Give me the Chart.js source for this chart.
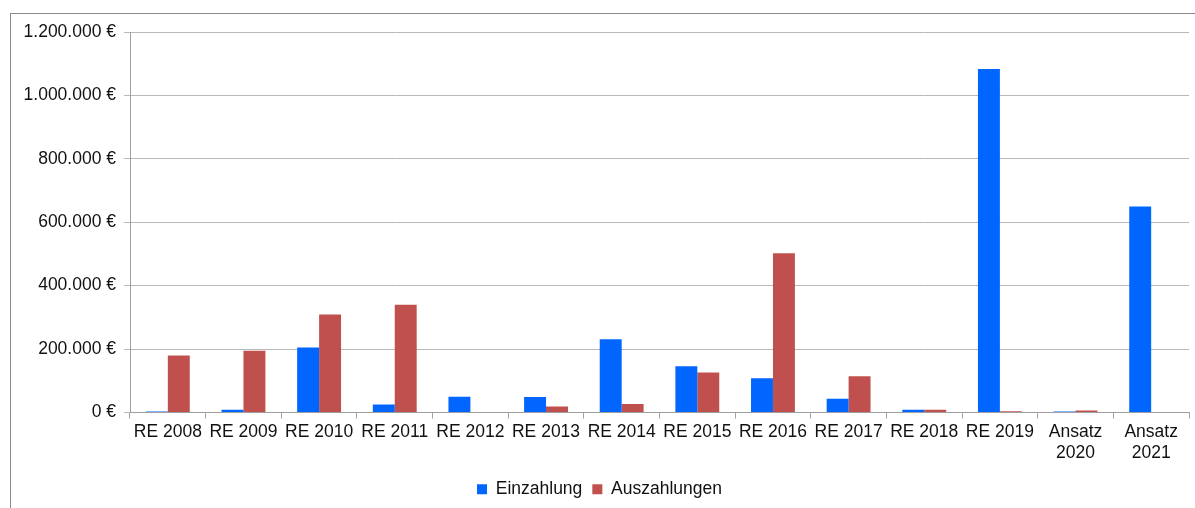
<!DOCTYPE html>
<html>
<head>
<meta charset="utf-8">
<script src="https://cdn.jsdelivr.net/npm/chart.js@4/dist/chart.umd.min.js"></script>
<style>
  html, body { margin: 0; padding: 0; background: #fff; }
  #frame { position: absolute; left: 10px; top: 13px; width: 1200px; height: 520px; border: 1px solid #8a8a8a; box-sizing: border-box; }
  #wrap { position: absolute; left: 0; top: 0; width: 1195px; height: 508px; }
</style>
</head>
<body>
<div id="frame"></div>
<div id="wrap"><canvas id="chart" width="1195" height="508"></canvas></div>
<script>
  'use strict';

  const categories = ['RE 2008', 'RE 2009', 'RE 2010', 'RE 2011', 'RE 2012', 'RE 2013', 'RE 2014',
    'RE 2015', 'RE 2016', 'RE 2017', 'RE 2018', 'RE 2019', ['Ansatz', '2020'], ['Ansatz', '2021']];
  const einzahlung = [3000, 9000, 205000, 25000, 50000, 49000, 231000, 146000, 108000, 43000, 9000, 1083000, 3000, 650000];
  const auszahlungen = [180000, 195000, 309000, 340000, 0, 19000, 27000, 126000, 502000, 114000, 9000, 4000, 6000, 0];
  const yTicks = [0, 200000, 400000, 600000, 800000, 1000000, 1200000];

  function formatEuro(v) {
    return String(v).replace(/\B(?=(\d{3})+(?!\d))/g, '.') + ' €';
  }

  const font = { family: '"Liberation Sans", Arial, sans-serif', size: 17.5, lineHeight: 1.15 };

  new Chart(document.getElementById('chart'), {
    type: 'bar',
    data: {
      labels: categories,
      datasets: [
        { label: 'Einzahlung', data: einzahlung, backgroundColor: '#0066ff' },
        { label: 'Auszahlungen', data: auszahlungen, backgroundColor: '#c0504d' }
      ]
    },
    options: {
      responsive: false,
      animation: false,
      datasets: { bar: { categoryPercentage: 0.58, barPercentage: 1.0 } },
      layout: { padding: { left: 10, top: 32, right: 6, bottom: 0 } },
      plugins: {
        tooltip: { enabled: false },
        legend: {
          position: 'bottom',
          labels: { font: font, color: '#111', boxWidth: 10, boxHeight: 10, padding: 10 }
        }
      },
      scales: {
        x: {
          grid: { offset: true, drawOnChartArea: false, drawTicks: true, tickLength: 6, color: '#a0a0a0' },
          border: { color: '#a0a0a0' },
          ticks: { font: font, color: '#111', maxRotation: 0, autoSkip: false, padding: 4 },
          afterFit: function (scale) { scale.height = 58; }
        },
        y: {
          min: 0,
          max: 1200000,
          afterBuildTicks: function (scale) { scale.ticks = yTicks.map(function (v) { return { value: v }; }); },
          grid: { color: '#b8b8b8', tickLength: 6 },
          border: { color: '#a0a0a0' },
          ticks: { font: font, color: '#111', padding: 8, callback: function (v) { return formatEuro(v); } },
          afterFit: function (scale) { scale.width = 120; }
        }
      }
    }
  });
</script>
</body>
</html>
